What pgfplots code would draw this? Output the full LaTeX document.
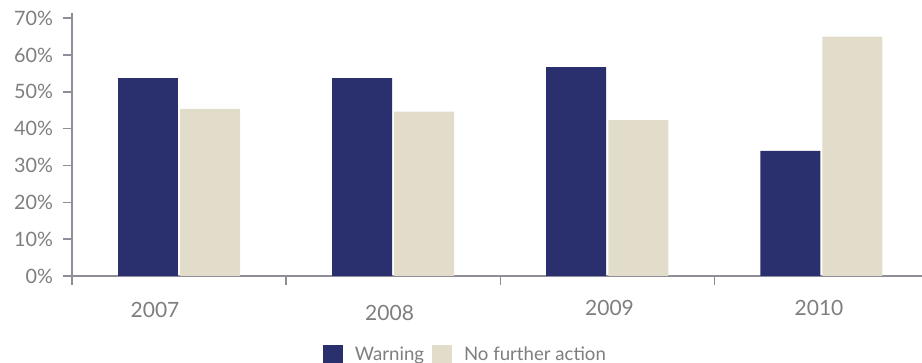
\documentclass[border=0pt]{standalone}
\usepackage{pgfplots}
\pgfplotsset{compat=1.18}
\usepackage{fontspec}
\setmainfont{Lato}
\definecolor{navy}{HTML}{2A2F6E}
\definecolor{sand}{HTML}{E2DCCB}
\definecolor{txt}{HTML}{7E7E7E}
\definecolor{axl}{HTML}{8E8E99}
\begin{document}
\begin{tikzpicture}
\useasboundingbox (-36pt,-43.5pt) rectangle (425pt,138pt);
\begin{axis}[
  at={(0pt,0pt)}, anchor=south west,
  scale only axis, width=425pt, height=131.5pt,
  xmin=-0.5, xmax=3.47, ymin=0, ymax=71.4,
  axis x line*=bottom, axis y line*=left,
  axis line style={axl, line width=0.7pt},
  ybar, bar width=0.28,
  xtick={-0.5,0.5,1.5,2.5}, xticklabels={},
  ytick={0,10,...,70},
  yticklabel={\pgfmathprintnumber{\tick}\%},
  /pgf/number format/assume math mode=true,
  yticklabel style={font=\fontsize{9.9}{11}\selectfont, text=txt, anchor=east, xshift=-1.5pt},
  tick align=outside, major tick length=4.5pt,
  tick style={axl, line width=0.7pt},
  clip=false,
  legend columns=2,
  legend style={draw=none, at={(0.464,-0.30)}, anchor=center,
    font=\fontsize{9.3}{11}\selectfont, text=txt,
    /tikz/every odd column/.append style={column sep=4pt},
    /tikz/every even column/.append style={column sep=2pt}},
  legend image code/.code={\fill[#1] (0pt,-5pt) rectangle (10pt,5pt);},
]
\addplot[fill=navy, draw=none, bar shift=-0.145] coordinates {(0,53.7) (1,53.7) (2,56.7) (3,34.0)};
\addlegendentry{Warning}
\addplot[fill=sand, draw=none, bar shift=0.145] coordinates {(0,45.4) (1,44.6) (2,42.3) (3,65.0)};
\addlegendentry{No further action}
\end{axis}
\begin{scope}[every node/.style={font=\fontsize{10.5}{12}\selectfont, text=txt}]
\node at (41.5pt,-16.75pt) {2007};
\node at (158.8pt,-18.25pt) {2008};
\node at (268.75pt,-15.75pt) {2009};
\node at (373.5pt,-15.75pt) {2010};
\end{scope}
\end{tikzpicture}
\end{document}
